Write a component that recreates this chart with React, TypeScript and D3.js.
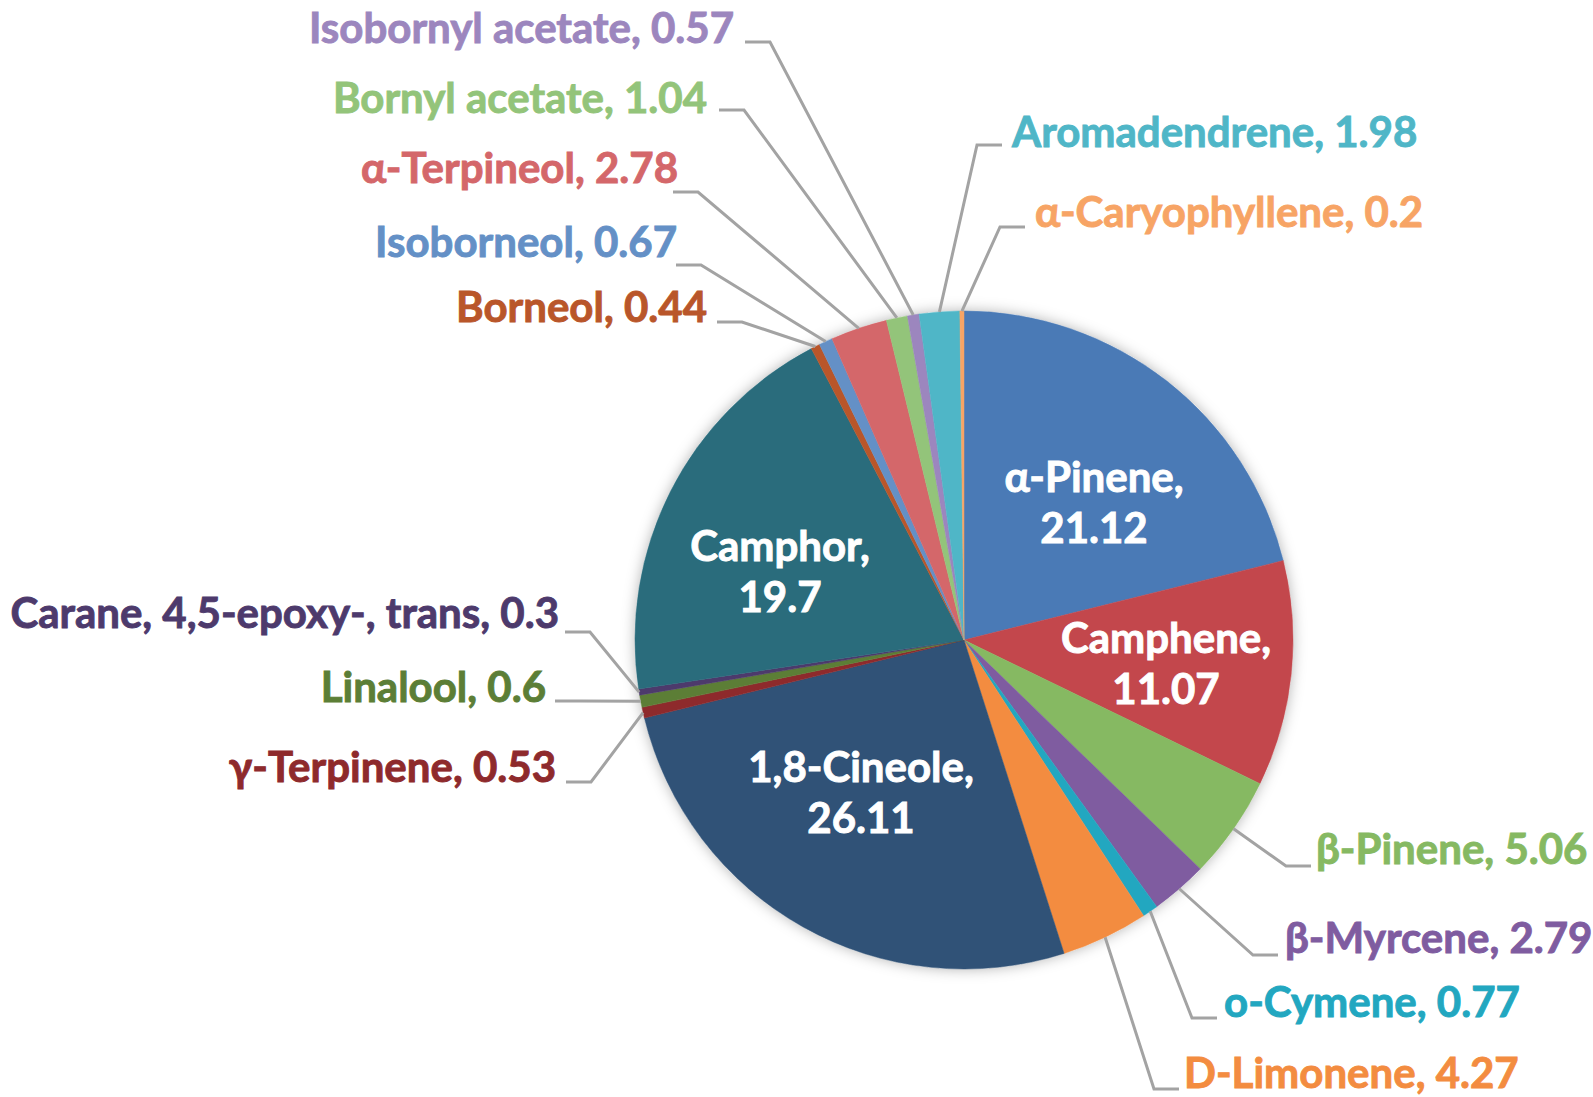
import { useEffect, useRef } from "react";
import * as d3 from "d3";

// Composés, dans l'ordre horaire depuis midi
const compounds = [
  "α-Pinene", "Camphene", "β-Pinene", "β-Myrcene", "o-Cymene", "D-Limonene",
  "1,8-Cineole", "γ-Terpinene", "Linalool", "Carane, 4,5-epoxy-, trans", "Camphor",
  "Borneol", "Isoborneol", "α-Terpineol", "Bornyl acetate", "Isobornyl acetate",
  "Aromadendrene", "α-Caryophyllene",
];

// Teneur (%)
const amounts = [
  21.12, 11.07, 5.06, 2.79, 0.77, 4.27,
  26.11, 0.53, 0.6, 0.3, 19.7,
  0.44, 0.67, 2.78, 1.04, 0.57,
  1.98, 0.2,
];

// Couleurs des parts
const sliceColors = [
  "#4A7AB6", "#C3474C", "#86B962", "#7F5CA0", "#22A7C0", "#F38C40",
  "#305277", "#8E2A2C", "#5C7E36", "#4D3A6C", "#2A6C7C",
  "#B9562A", "#6490C6", "#D4676A", "#93C47A", "#9C86BE",
  "#4FB6C7", "#F7A465",
];

const width = 1593;
const height = 1097;
const cx = 964;
const cy = 640;
const radius = 329;
const fontSize = 42;

// Étiquettes à l'intérieur des grosses parts (décalage depuis le centre)
const insideLabels: Record<string, [number, number]> = {
  "α-Pinene": [130, -138],
  "Camphene": [202, 23],
  "1,8-Cineole": [-103, 152],
  "Camphor": [-184, -69],
};

// Étiquettes extérieures : position du texte, départ du trait de rappel, côté
const outsideLabels: Record<string, { tx: number; ty: number; lx: number; ly: number; side: number }> = {
  "Isobornyl acetate": { tx: 734, ty: 43, lx: 745, ly: 42, side: 1 },
  "Bornyl acetate": { tx: 707, ty: 113, lx: 719, ly: 110, side: 1 },
  "α-Terpineol": { tx: 678, ty: 183, lx: 673, ly: 192, side: 1 },
  "Isoborneol": { tx: 677, ty: 257, lx: 676, ly: 265, side: 1 },
  "Borneol": { tx: 707, ty: 322, lx: 717, ly: 322, side: 1 },
  "Carane, 4,5-epoxy-, trans": { tx: 559, ty: 628, lx: 565, ly: 632, side: 1 },
  "Linalool": { tx: 546, ty: 702, lx: 555, ly: 701, side: 1 },
  "γ-Terpinene": { tx: 556, ty: 782, lx: 566, ly: 782, side: 1 },
  "Aromadendrene": { tx: 1012, ty: 147, lx: 1002, ly: 145, side: -1 },
  "α-Caryophyllene": { tx: 1035, ty: 227, lx: 1025, ly: 227, side: -1 },
  "β-Pinene": { tx: 1316, ty: 864, lx: 1311, ly: 866, side: -1 },
  "β-Myrcene": { tx: 1285, ty: 953, lx: 1278, ly: 955, side: -1 },
  "o-Cymene": { tx: 1224, ty: 1017, lx: 1217, ly: 1018, side: -1 },
  "D-Limonene": { tx: 1184, ty: 1088, lx: 1179, ly: 1089, side: -1 },
};

const drawChart = (node: SVGSVGElement) => {
  const data = compounds.map((name, i) => ({ name, value: amounts[i], color: sliceColors[i] }));

  const svg = d3.select(node);
  svg.selectAll("*").remove();

  const defs = svg.append("defs");
  defs.append("filter")
    .attr("id", "pie-shadow")
    .attr("x", "-20%").attr("y", "-20%")
    .attr("width", "140%").attr("height", "140%")
    .append("feDropShadow")
    .attr("dx", 0).attr("dy", 0)
    .attr("stdDeviation", 7)
    .attr("flood-color", "#000")
    .attr("flood-opacity", 0.3);

  const pie = d3.pie<{ name: string; value: number; color: string }>()
    .value(d => d.value)
    .sort(null);

  const arc = d3.arc<d3.PieArcDatum<{ name: string; value: number; color: string }>>()
    .innerRadius(0)
    .outerRadius(radius);

  const arcs = pie(data);

  const g = svg.append("g").attr("transform", `translate(${cx},${cy})`);

  // Ombre douce
  g.append("circle")
    .attr("r", radius)
    .attr("fill", "#fff")
    .attr("filter", "url(#pie-shadow)");

  // Parts
  g.selectAll("path.slice")
    .data(arcs)
    .join("path")
    .attr("class", "slice")
    .attr("d", arc)
    .attr("fill", d => d.data.color)
    .attr("stroke", d => d.data.color)
    .attr("stroke-width", 0.5);

  // Traits de rappel
  const edgePoint = (d: d3.PieArcDatum<any>) => {
    const a = (d.startAngle + d.endAngle) / 2;
    return [cx + radius * Math.sin(a), cy - radius * Math.cos(a)];
  };

  svg.append("g")
    .selectAll("path")
    .data(arcs.filter(d => outsideLabels[d.data.name]))
    .join("path")
    .attr("fill", "none")
    .attr("stroke", "#A3A3A3")
    .attr("stroke-width", 3)
    .attr("d", d => {
      const l = outsideLabels[d.data.name];
      const [ex, ey] = edgePoint(d);
      return d3.line()([[l.lx, l.ly], [l.lx + l.side * 25, l.ly], [ex, ey]]);
    });

  // Étiquettes extérieures
  svg.append("g")
    .attr("font-family", "Lato, 'Open Sans', sans-serif")
    .attr("font-weight", 700)
    .attr("font-size", fontSize)
    .attr("stroke-width", 0.9)
    .selectAll("text")
    .data(arcs.filter(d => outsideLabels[d.data.name]))
    .join("text")
    .attr("x", d => outsideLabels[d.data.name].tx)
    .attr("y", d => outsideLabels[d.data.name].ty)
    .attr("text-anchor", d => (outsideLabels[d.data.name].side > 0 ? "end" : "start"))
    .attr("fill", d => d.data.color)
    .attr("stroke", d => d.data.color)
    .text(d => `${d.data.name}, ${d.data.value}`);

  // Étiquettes intérieures (deux lignes, en blanc)
  svg.append("g")
    .attr("font-family", "Lato, 'Open Sans', sans-serif")
    .attr("font-weight", 700)
    .attr("font-size", fontSize)
    .attr("text-anchor", "middle")
    .attr("fill", "#fff")
    .attr("stroke", "#fff")
    .attr("stroke-width", 0.9)
    .selectAll("text")
    .data(arcs.filter(d => insideLabels[d.data.name]))
    .join("text")
    .attr("transform", d => {
      const [dx, dy] = insideLabels[d.data.name];
      return `translate(${cx + dx},${cy + dy})`;
    })
    .call(text => text.append("tspan")
      .attr("x", 0)
      .attr("y", -10)
      .text(d => `${d.data.name},`))
    .call(text => text.append("tspan")
      .attr("x", 0)
      .attr("y", 41)
      .text(d => `${d.data.value}`));
};

export default function App() {
  const ref = useRef<SVGSVGElement>(null);

  useEffect(() => {
    document.body.style.margin = "0";
    if (ref.current) drawChart(ref.current);
  }, []);

  return (
    <svg ref={ref} width={width} height={height} style={{ display: "block", background: "#fff" }} />
  );
}
